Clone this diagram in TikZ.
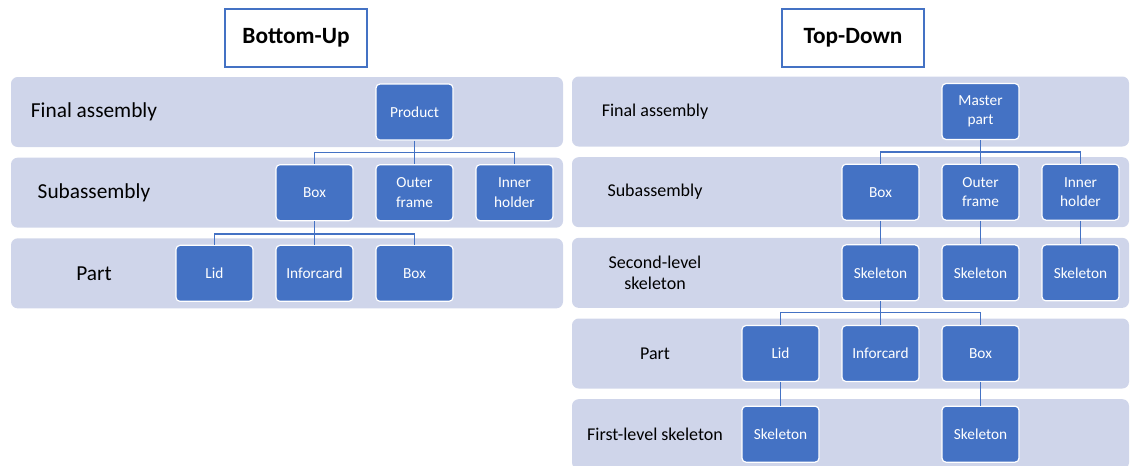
\documentclass[tikz,border=0pt]{standalone}
\usepackage{fontspec}
\setmainfont{Carlito}
\usetikzlibrary{positioning}

\definecolor{bandfill}{HTML}{CFD5EA}
\definecolor{boxblue}{HTML}{4472C4}

\begin{document}
\begin{tikzpicture}[x=0.75pt, y=-0.75pt, node distance=60.5pt and 75pt, on grid]

        \tikzset{
          band/.style={rectangle, rounded corners=5pt, fill=bandfill, minimum height=52.5pt, inner sep=0pt},
          level/.style={align=center, font=\fontsize{16}{19}\selectfont},
          sublevel/.style={align=center, font=\fontsize{13.5}{16}\selectfont},
          item/.style={rectangle, rounded corners=3pt, fill=boxblue, draw=white, line width=0.9pt, text=white,
                       minimum width=57.75pt, minimum height=42pt, inner sep=1pt, align=center,
                       font=\fontsize{11.5}{14.5}\selectfont},
          heading/.style={rectangle, draw=boxblue, line width=1pt, fill=white, minimum width=106.5pt,
                          minimum height=43.5pt, font=\fontsize{17.5}{20}\selectfont\bfseries},
          link/.style={draw=boxblue, line width=1pt}
        }

        \useasboundingbox (0,0) rectangle (1134,465);

        % bottom-up
        \node[heading] (bu_title) at (296,38) {Bottom-Up};

        \node[band, minimum width=414pt] (bu_band1) at (287,112) {};
        \node[band, minimum width=414pt] (bu_band2) [below=of bu_band1] {};
        \node[band, minimum width=414pt] (bu_band3) [below=of bu_band2] {};

        \node[level] (bu_final) at (94,112) {Final assembly};
        \node[level] (bu_sub)   [below=of bu_final] {Subassembly};
        \node[level] (bu_part)  [below=of bu_sub] {Part};

        \node[item] (bu_prod)      at (414.5,112) {Product};
        \node[item] (bu_outer)     [below=of bu_prod] {Outer\\frame};
        \node[item] (bu_box)       [left=of bu_outer] {Box};
        \node[item] (bu_inner)     [right=of bu_outer] {Inner\\holder};
        \node[item] (bu_inforcard) [below=of bu_box] {Inforcard};
        \node[item] (bu_lid)       [left=of bu_inforcard] {Lid};
        \node[item] (bu_pbox)      [right=of bu_inforcard] {Box};

        \coordinate[below=9pt of bu_prod.south] (bu_fork1);
        \coordinate[below=9.5pt of bu_box.south] (bu_fork2);

        \draw[link] (bu_prod) -- (bu_fork1) -| (bu_box);
        \draw[link] (bu_fork1) -| (bu_inner);
        \draw[link] (bu_fork1) -- (bu_outer);
        \draw[link] (bu_box) -- (bu_fork2) -| (bu_lid);
        \draw[link] (bu_fork2) -| (bu_pbox);
        \draw[link] (bu_fork2) -- (bu_inforcard);

        % top-down
        \node[heading] (td_title) at (853,38) {Top-Down};

        \node[band, minimum width=417.75pt] (td_band1) at (850.5,111.5) {};
        \node[band, minimum width=417.75pt] (td_band2) [below=of td_band1] {};
        \node[band, minimum width=417.75pt] (td_band3) [below=of td_band2] {};
        \node[band, minimum width=417.75pt] (td_band4) [below=of td_band3] {};
        \node[band, minimum width=417.75pt] (td_band5) [below=of td_band4] {};

        \node[sublevel] (td_final)  at (655,111.5) {Final assembly};
        \node[sublevel] (td_sub)    [below=of td_final] {Subassembly};
        \node[sublevel] (td_second) [below=of td_sub] {Second-level\\skeleton};
        \node[sublevel] (td_part)   [below=of td_second] {Part};
        \node[sublevel] (td_first)  [below=of td_part] {First-level skeleton};

        \node[item] (td_master)    at (980.5,111.5) {Master\\part};
        \node[item] (td_outer)     [below=of td_master] {Outer\\frame};
        \node[item] (td_box)       [left=of td_outer] {Box};
        \node[item] (td_inner)     [right=of td_outer] {Inner\\holder};
        \node[item] (td_skel1)     [below=of td_box] {Skeleton};
        \node[item] (td_skel2)     [below=of td_outer] {Skeleton};
        \node[item] (td_skel3)     [below=of td_inner] {Skeleton};
        \node[item] (td_inforcard) [below=of td_skel1] {Inforcard};
        \node[item] (td_lid)       [left=of td_inforcard] {Lid};
        \node[item] (td_pbox)      [right=of td_inforcard] {Box};
        \node[item] (td_skel4)     [below=of td_lid] {Skeleton};
        \node[item] (td_skel5)     [below=of td_pbox] {Skeleton};

        \coordinate[below=9pt of td_master.south] (td_fork1);
        \coordinate[below=8.5pt of td_skel1.south] (td_fork2);

        \draw[link] (td_master) -- (td_fork1) -| (td_box);
        \draw[link] (td_fork1) -| (td_inner);
        \draw[link] (td_fork1) -- (td_outer);
        \draw[link] (td_skel1) -- (td_fork2) -| (td_lid);
        \draw[link] (td_fork2) -| (td_pbox);
        \draw[link] (td_fork2) -- (td_inforcard);

        \path[link]
        (td_box)   edge (td_skel1)
        (td_outer) edge (td_skel2)
        (td_inner) edge (td_skel3)
        (td_lid)   edge (td_skel4)
        (td_pbox)  edge (td_skel5);

\end{tikzpicture}
\end{document}
